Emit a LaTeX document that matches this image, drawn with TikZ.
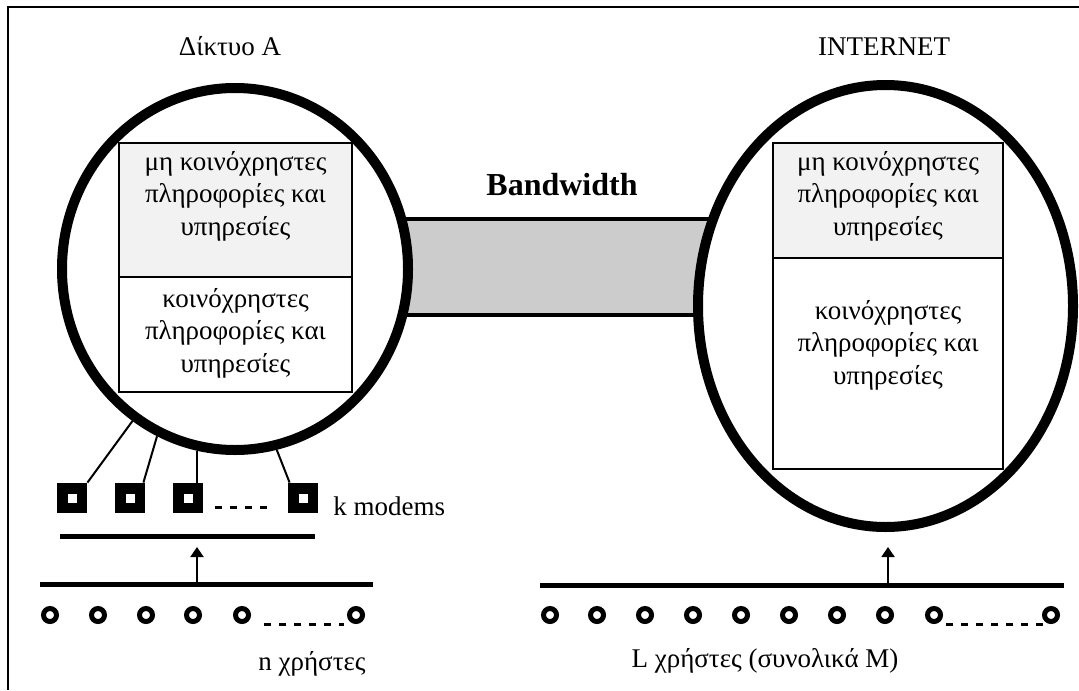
\documentclass[tikz,border=0pt]{standalone}
\usepackage{fontspec}
\setmainfont{Liberation Serif}
\usetikzlibrary{shapes.geometric,arrows.meta}
\definecolor{bandgray}{HTML}{CCCCCC}
\definecolor{cellgray}{HTML}{F2F2F2}
\begin{document}
\begin{tikzpicture}[x=0.5pt,y=-0.5pt,
  font=\fontsize{13.5pt}{16.25pt}\selectfont,
  ring/.style={ellipse, draw, fill=white, line width=5pt, inner sep=0pt},
  cell/.style={rectangle, draw, line width=1pt, inner sep=0pt},
  band/.style={rectangle, draw, fill=bandgray, line width=2pt, inner sep=0pt},
  modem/.style={rectangle, fill=black, minimum size=15pt, inner sep=0pt,
    path picture={\fill[white] ([shift={(-2.25pt,-2.25pt)}]path picture bounding box.center)
      rectangle ([shift={(2.25pt,2.25pt)}]path picture bounding box.center);}},
  user/.style={circle, draw, line width=2.5pt, minimum size=6.5pt, inner sep=0pt},
  bar/.style={line width=2.5pt},
  link/.style={line width=1pt},
  gap/.style={line width=1.5pt, dash pattern=on 3.5pt off 4pt},
  lbl/.style={inner sep=0pt},
  up/.style={line width=1pt, -{Triangle[width=6.5pt,length=5pt]}}]
\useasboundingbox (0,0) rectangle (1079,690);

% outer frame
\draw[line width=1pt] (8,690) -- (8,7) -- (1079,7);

% titles
\node[lbl, anchor=base] (tA) at (230,56) {Δίκτυο Α};
\node[lbl, anchor=base] (tI) at (884,56) {INTERNET};
\node[lbl, anchor=base, font=\fontsize{16pt}{19pt}\selectfont\bfseries] (tB) at (562,195) {Bandwidth};

% link between the two networks
\node[band, minimum width=160pt, minimum height=48pt] (bw) at (555,267) {};

% the two networks
\node[ring, minimum width=173pt, minimum height=181pt] (netA) at (235,269) {};
\node[ring, minimum width=187.5pt, minimum height=221pt] (netI) at (885.5,306) {};

% content boxes of network A
\node[cell, fill=cellgray, minimum width=116.5pt, minimum height=67pt] (aP) at (235.5,210) {};
\node[cell, minimum width=116.5pt, minimum height=57.5pt] (aS) at (235.5,334.5) {};
\node[lbl, align=center] (aPt) at (235.5,196) {μη κοινόχρηστες\\πληροφορίες και\\υπηρεσίες};
\node[lbl, align=center] (aSt) at (235.5,333) {κοινόχρηστες\\πληροφορίες και\\υπηρεσίες};

% content boxes of the internet
\node[cell, fill=cellgray, minimum width=115pt, minimum height=57.5pt] (iP) at (888,200.5) {};
\node[cell, minimum width=115pt, minimum height=105.5pt] (iS) at (888,363.5) {};
\node[lbl, align=center] (iPt) at (888,196) {μη κοινόχρηστες\\πληροφορίες και\\υπηρεσίες};
\node[lbl, align=center] (iSt) at (888,345) {κοινόχρηστες\\πληροφορίες και\\υπηρεσίες};

% modems
\node[modem] (m1) at (72,498) {};
\node[modem] (m2) at (130,498) {};
\node[modem] (m3) at (188,498) {};
\node[modem] (m4) at (303,498) {};
\draw[gap] ([shift={(27,9)}]m3.center) -- ([shift={(-35,9)}]m4.center);
\node[lbl, anchor=base west] (km) at (333,515) {k modems};

\coordinate (e1) at (netA.-124);
\coordinate (e2) at (netA.-115);
\coordinate (e3) at (netA.-102);
\coordinate (e4) at (netA.-77.5);
\draw[link] (m1.north east) -- (e1);
\draw[link] ([xshift=-1pt]m2.north east) -- (e2);
\draw[link] ([xshift=-3pt]m3.north east) -- ([xshift=-3pt]m3.north east |- e3);
\draw[link] ([xshift=1pt]m4.north west) -- (e4);

% modem bus and users of network A
\coordinate (mbL) at (60,536);
\coordinate (mbR) at (315,536);
\draw[bar] (mbL) -- (mbR);
\coordinate (ubL) at (40,584);
\coordinate (ubR) at (373,584);
\draw[bar] (ubL) -- (ubR);
\coordinate (ubA) at (197,584);
\coordinate (tipA) at (197,547);
\draw[up] (ubA) -- (tipA);

\foreach \i/\x in {1/50,2/98,3/146,4/193,5/242,6/356}
  \node[user] (uA\i) at (\x,615) {};
\draw[gap] ([shift={(22,9)}]uA5.center) -- ([shift={(-12,9)}]uA6.center);
\node[lbl, anchor=base] (nA) at (312,670) {n χρήστες};

% users of the internet
\coordinate (ibL) at (540,585);
\coordinate (ibR) at (1064,585);
\draw[bar] (ibL) -- (ibR);
\coordinate (ibA) at (888,585);
\coordinate (tipI) at (888,547);
\draw[up] (ibA) -- (tipI);

\foreach \i/\x in {1/550,2/597,3/645,4/693,5/741,6/789,7/837,8/885,9/934,10/1051}
  \node[user] (uI\i) at (\x,615) {};
\draw[gap] ([shift={(12,9)}]uI9.center) -- ([shift={(-8,9)}]uI10.center);
\node[lbl, anchor=base] (nI) at (765,667) {L χρήστες (συνολικά Μ)};
\end{tikzpicture}
\end{document}
